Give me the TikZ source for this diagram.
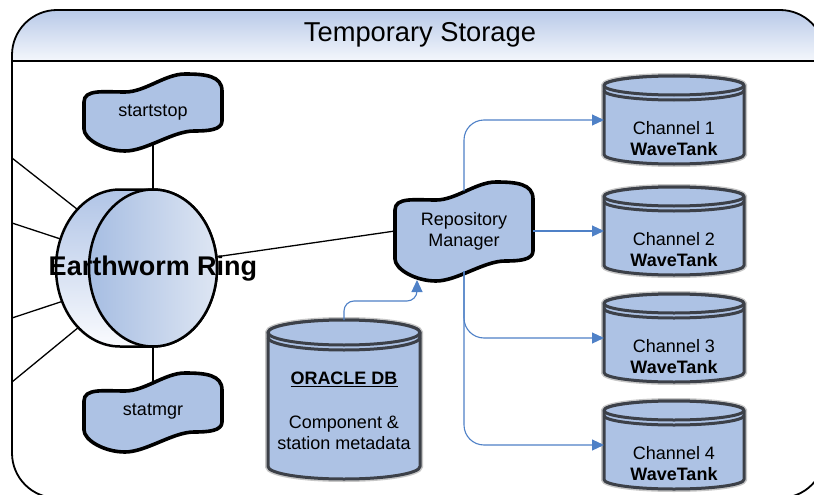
\documentclass[tikz,border=0pt]{standalone}
\usepackage{fontspec}
\setmainfont{Liberation Sans}
\usetikzlibrary{arrows.meta,shapes.geometric}

\definecolor{boxblue}{RGB}{173,194,228}
\definecolor{tankedge}{RGB}{60,64,72}
\definecolor{flowblue}{RGB}{79,129,199}
\definecolor{headtop}{RGB}{184,201,232}
\definecolor{headbot}{RGB}{244,247,252}
\definecolor{ringtop}{RGB}{176,196,230}
\definecolor{ringbot}{RGB}{250,251,254}
\definecolor{ringfl}{RGB}{166,189,226}
\definecolor{ringfr}{RGB}{222,230,243}

\newcommand\boxfont{\fontsize{18}{21}\selectfont}

\tikzset{
  frameline/.style={draw=black,line width=1.8pt},
  waveshape/.style={fill=boxblue,draw=black,line width=3.6pt,line join=round},
  wavenode/.style={rectangle,minimum width=138pt,inner sep=0pt,outer sep=0pt,align=center,font=\boxfont},
  anchorbox/.style={rectangle,inner sep=0pt,outer sep=0pt},
  ringnode/.style={ellipse,minimum width=128pt,minimum height=157pt,inner sep=0pt,outer sep=0pt},
  tankhalo/.style={draw=black!40,line width=6pt,opacity=0.55},
  tankfill/.style={fill=boxblue,draw=tankedge,line width=3pt,line join=round},
  tanktext/.style={align=center,font=\boxfont,inner sep=0pt},
  link/.style={draw=black,line width=1.3pt},
  flow/.style={draw=flowblue,line width=1.1pt,-{Triangle[length=12pt,width=11pt]}},
}

% wavy process box: centre x, mean y of the upper edge, height (width 138)
\newcommand\wavepath[3]{%
  \begin{scope}[shift={({#1-69},#2)}]
    \draw[waveshape] (0,19) .. controls (0,6) and (20,9) .. (41,9)
      .. controls (61,9) and (81,-9) .. (101,-9)
      .. controls (122,-9) and (138,-7) .. (138,8)
      -- (138,{#3-20})
      .. controls (138,{#3-11}) and (124,{#3-10}) .. (110,{#3-10})
      .. controls (89,{#3-10}) and (62,{#3+10}) .. (41,{#3+10})
      .. controls (20,{#3+10}) and (0,{#3-2}) .. (0,{#3-12})
      -- cycle;
  \end{scope}}

% storage cylinder: name, centre x, top y, x radius, y radius, height
\newcommand\tank[6]{%
  \node[anchorbox,minimum width={2*#4*1pt},minimum height={#6*1pt}] (#1) at (#2,{#3+0.5*#6}) {};
  \path[tankhalo] ({#2-#4},{#3+#5}) -- ({#2-#4},{#3+#6-#5})
    arc[start angle=180,end angle=360,x radius=#4pt,y radius=#5pt]
    -- ({#2+#4},{#3+#5}) arc[start angle=0,end angle=180,x radius=#4pt,y radius=#5pt] -- cycle;
  \path[tankfill] ({#2-#4},{#3+#5}) -- ({#2-#4},{#3+#6-#5})
    arc[start angle=180,end angle=360,x radius=#4pt,y radius=#5pt]
    -- ({#2+#4},{#3+#5}) arc[start angle=0,end angle=180,x radius=#4pt,y radius=#5pt] -- cycle;
  \draw[tankfill] (#2,{#3+#5}) ellipse[x radius=#4pt,y radius=#5pt];
  \draw[tankfill,fill=none] ({#2-#4},{#3+#5+5}) arc[start angle=180,end angle=360,x radius=#4pt,y radius=#5pt];
}

\begin{document}
\begin{tikzpicture}[x=1pt,y=-1pt]
\useasboundingbox (0,0) rectangle (814,495);
\clip (0,0) rectangle (814,495);

% outer container with title band
\fill[white,rounded corners=45pt] (12,10) rectangle (825,498);
\begin{scope}
  \clip[rounded corners=45pt] (12,10) rectangle (825,498);
  \shade[top color=headtop,bottom color=headbot] (12,10) rectangle (825,61);
\end{scope}
\draw[frameline,rounded corners=45pt] (12,10) rectangle (825,498);
\draw[frameline] (12,61) -- (825,61);
\node[font=\fontsize{27.3}{30}\selectfont] (title) at (420,35) {Temporary Storage};

% ring drawn as a cylinder lying on its side
\node[ringnode] (ringback) at (120,268) {};
\node[ringnode] (ring) at (153,268) {};
\shade[draw=black,line width=2.5pt,top color=ringtop,bottom color=ringbot]
  (ringback.north) -- (ring.north)
  arc[start angle=90,end angle=-90,x radius=64pt,y radius=78.5pt]
  -- (ringback.south)
  arc[start angle=270,end angle=90,x radius=64pt,y radius=78.5pt] -- cycle;
\shade[draw=black,line width=2.5pt,left color=ringfl,right color=ringfr]
  (ring.center) ellipse[x radius=64pt,y radius=78.5pt];
\node[font=\fontsize{27}{30}\bfseries\selectfont] (ringlabel) at (153,269) {Earthworm Ring};

% modules
\wavepath{153}{83}{58}
\node[wavenode,minimum height=58pt] (ss) at (153,113) {startstop};
\wavepath{153}{382}{60}
\node[wavenode,minimum height=60pt] (sm) at (153,412) {statmgr};
\wavepath{464}{191}{80}
\node[wavenode,minimum height=80pt] (repo) at (464,231) {Repository\\Manager};

% databases
\tank{db}{344}{320}{76}{12.5}{159}
\node[tanktext] (dbt) at (344,410.5) {\underline{\textbf{ORACLE DB}}\\[23pt]Component \&\\station metadata};
\tank{ch1}{674}{76}{70}{9.5}{88}
\node[tanktext] (ch1t) at (674,138.5) {Channel 1\\\textbf{WaveTank}};
\tank{ch2}{674}{187}{70}{9.5}{88}
\node[tanktext] (ch2t) at (674,249.5) {Channel 2\\\textbf{WaveTank}};
\tank{ch3}{674}{294}{70}{9.5}{88}
\node[tanktext] (ch3t) at (674,356.5) {Channel 3\\\textbf{WaveTank}};
\tank{ch4}{674}{401}{70}{9.5}{88}
\node[tanktext] (ch4t) at (674,463.5) {Channel 4\\\textbf{WaveTank}};

% ring connections
\coordinate (l1) at (12,158);
\coordinate (l2) at (12,223);
\coordinate (l3) at (12,318);
\coordinate (l4) at (12,382);
\draw[link] (l1) -- (ringback.126);
\draw[link] (l2) -- (ringback.154);
\draw[link] (l3) -- (ringback.210);
\draw[link] (l4) -- (ringback.235);
\draw[link] (ss.south) -- (ring.north);
\draw[link] (ring.south) -- (sm.north);
\draw[link] (ring.10) -- (repo.west);

% data flow
\draw[flow,rounded corners=20pt] (repo.north) |- (ch1.west);
\draw[flow] (repo.east) -- (ch2.west);
\draw[flow,rounded corners=20pt] (repo.south) |- (ch3.west);
\draw[flow,rounded corners=20pt] (repo.south) |- (ch4.west);
\draw[flow,rounded corners=10pt] (db.north) -- ++(0,-19) -| ([xshift=-47pt,yshift=-9pt]repo.south);
\end{tikzpicture}
\end{document}
